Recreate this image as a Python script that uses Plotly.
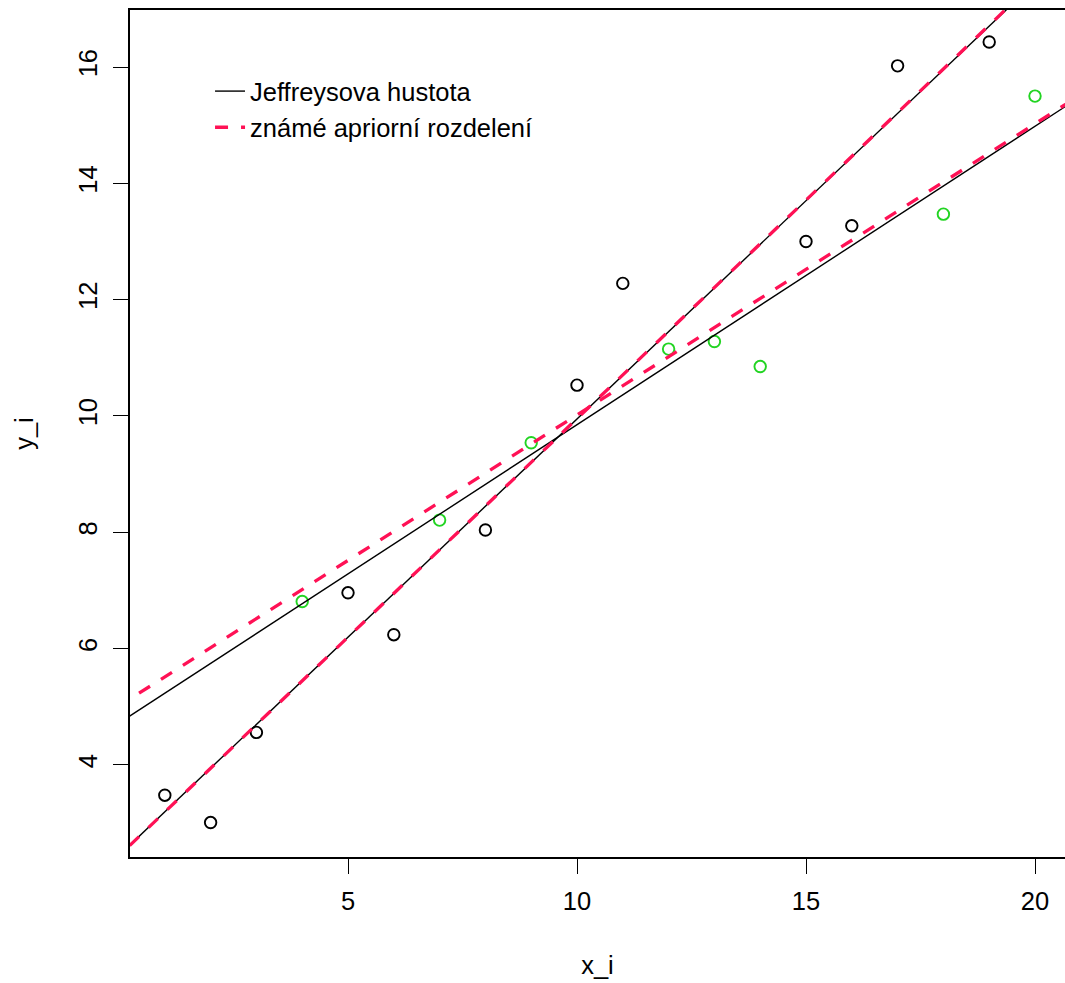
import plotly.graph_objects as go

# ---- data ----
x_black = [1, 2, 3, 5, 6, 8, 10, 11, 15, 16, 17, 19]
y_black = [3.48, 3.01, 4.56, 6.96, 6.24, 8.04, 10.53, 12.28, 13.00, 13.27, 16.02, 16.43]
x_green = [4, 7, 9, 12, 13, 14, 18, 20]
y_green = [6.81, 8.21, 9.54, 11.15, 11.28, 10.85, 13.47, 15.50]

# regression lines: (intercept, slope)
jeffreys_lines = [(2.445, 0.7504), (4.72, 0.513)]
prior_lines = [(2.44, 0.7515), (5.015, 0.5004)]

legend_labels = ["Jeffreysova hustota", "známé apriorní rozdelení"]

x_range = [0.24, 20.655]
y_range = [2.418, 16.98]
x_ticks = [5, 10, 15, 20]
y_ticks = [4, 6, 8, 10, 12, 14, 16]

FONT = "Liberation Sans, Arial, Helvetica, sans-serif"
FS = 25.5
RED = "#FF1155"
GREEN = "#22D422"

fig = go.Figure()

fig.add_trace(go.Scatter(
    x=x_black, y=y_black, mode="markers", showlegend=False,
    marker=dict(symbol="circle-open", size=11.5, color="black", line=dict(width=1.9)),
))
fig.add_trace(go.Scatter(
    x=x_green, y=y_green, mode="markers", showlegend=False,
    marker=dict(symbol="circle-open", size=11.5, color=GREEN, line=dict(width=1.9)),
))

x_line = [-1, 22]
for i, (a, b) in enumerate(jeffreys_lines):
    fig.add_trace(go.Scatter(
        x=x_line, y=[a + b * xv for xv in x_line], mode="lines",
        line=dict(color="black", width=1.4),
        name=legend_labels[0], showlegend=(i == 0), legendrank=1,
    ))
for i, (a, b) in enumerate(prior_lines):
    fig.add_trace(go.Scatter(
        x=x_line, y=[a + b * xv for xv in x_line], mode="lines",
        line=dict(color=RED, width=3.3, dash="13px,13px"),
        name=legend_labels[1], showlegend=(i == 0), legendrank=2,
    ))

fig.update_layout(
    width=1065, height=983,
    margin=dict(l=130, r=0, t=10, b=126),
    paper_bgcolor="white", plot_bgcolor="white",
    font=dict(family=FONT, size=FS, color="black"),
    showlegend=True,
    legend=dict(
        x=0.0856, y=0.9315, xref="paper", yref="paper",
        xanchor="left", yanchor="top",
        bgcolor="rgba(0,0,0,0)", borderwidth=0,
        font=dict(family=FONT, size=FS, color="black"),
        tracegroupgap=0, itemwidth=30,
    ),
    xaxis=dict(
        range=x_range, tickmode="array", tickvals=x_ticks,
        showgrid=False, zeroline=False,
        showline=True, linecolor="black", linewidth=1.5, mirror=True,
        ticks="outside", ticklen=15, tickwidth=1.3, tickcolor="black",
        ticklabelstandoff=6,
        title=dict(text="x_i", standoff=42, font=dict(size=FS)),
    ),
    yaxis=dict(
        range=y_range, tickmode="array", tickvals=y_ticks,
        showgrid=False, zeroline=False,
        showline=True, linecolor="black", linewidth=1.5, mirror=False,
        ticks="outside", ticklen=15, tickwidth=1.3, tickcolor="black",
        tickangle=-90, ticklabelstandoff=6,
        title=dict(text="y_i", standoff=33, font=dict(size=FS)),
    ),
)

fig.write_html("out.html")
